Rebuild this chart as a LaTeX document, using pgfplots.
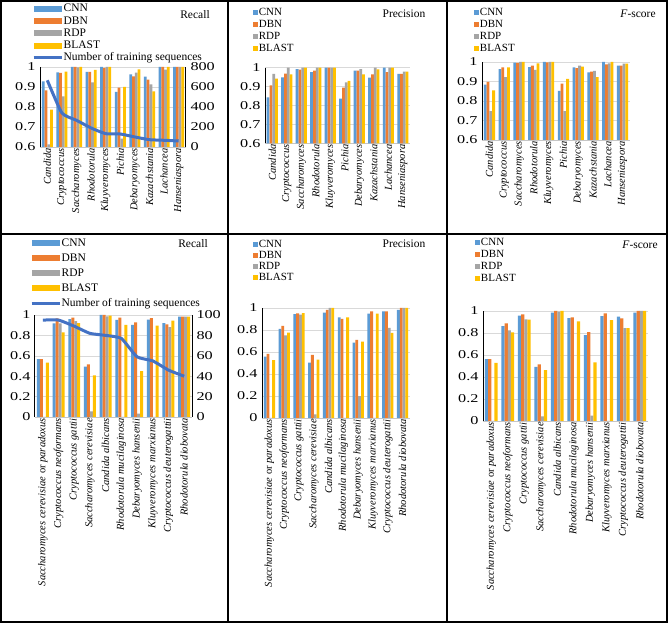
\documentclass[border=0pt]{standalone}
\usepackage{fontspec}
\setmainfont{Liberation Serif}
\newfontfamily\tickfont[FakeStretch=1.35]{Liberation Serif}
\usepackage{pgfplots}
\usepackage{pgfplotstable}
\pgfplotsset{compat=1.18}
\definecolor{cnn}{RGB}{91,155,213}
\definecolor{dbn}{RGB}{237,125,49}
\definecolor{rdp}{RGB}{165,165,165}
\definecolor{blast}{RGB}{255,192,0}
\definecolor{seqc}{RGB}{68,114,196}

\pgfplotstableread{
x cnn dbn rdp blast seq
0 0.928 0.883 0.613 0.787 667
1 0.973 0.970 0.853 0.977 340
2 1.000 1.000 0.998 1.000 267
3 0.975 0.975 0.923 0.985 190
4 1.000 0.995 1.000 1.000 133
5 0.875 0.897 0.642 0.900 130
6 0.963 0.953 0.972 0.988 100
7 0.952 0.937 0.913 0.878 73
8 1.000 1.000 0.987 1.000 67
9 1.000 1.000 1.000 1.000 60
}\recA
\pgfplotstableread{
x cnn dbn rdp blast
0 0.843 0.907 0.967 0.942
1 0.949 0.968 1.000 0.965
2 0.993 0.990 1.000 1.000
3 0.977 0.984 1.000 1.000
4 1.000 1.000 1.000 1.000
5 0.836 0.894 0.922 0.930
6 0.984 0.984 0.993 0.965
7 0.947 0.965 1.000 0.991
8 1.000 0.977 1.000 1.000
9 0.967 0.967 0.979 0.979
}\preA
\pgfplotstableread{
x cnn dbn rdp blast
0 0.884 0.898 0.748 0.855
1 0.963 0.973 0.922 0.973
2 0.997 0.995 1.000 1.000
3 0.974 0.981 0.959 0.993
4 1.000 0.998 1.000 1.000
5 0.852 0.889 0.748 0.913
6 0.973 0.969 0.981 0.976
7 0.947 0.951 0.954 0.922
8 1.000 0.988 0.993 1.000
9 0.981 0.981 0.991 0.991
}\fA
\pgfplotstableread{
x cnn dbn rdp blast seq
0 0.567 0.567 0.000 0.534 95
1 0.918 0.967 0.918 0.830 95
2 0.960 0.974 0.940 0.920 89
3 0.495 0.515 0.056 0.407 82
4 1.000 1.000 0.987 0.993 80
5 0.951 0.974 0.000 0.902 77
6 0.902 0.928 0.033 0.449 59
7 0.954 0.970 0.000 0.895 55
8 0.921 0.908 0.882 0.944 46
9 0.984 0.984 0.984 0.984 40
}\recB
\pgfplotstableread{
x cnn dbn rdp blast
0 0.558 0.582 0.000 0.527
1 0.811 0.838 0.750 0.777
2 0.945 0.951 0.939 0.954
3 0.503 0.573 0.034 0.530
4 0.957 0.982 1.000 1.000
5 0.915 0.900 0.000 0.915
6 0.686 0.710 0.198 0.695
7 0.948 0.970 0.000 0.948
8 0.970 0.970 0.820 0.774
9 0.982 1.000 1.000 1.000
}\preB
\pgfplotstableread{
x cnn dbn rdp blast
0 0.562 0.562 0.000 0.529
1 0.863 0.888 0.824 0.805
2 0.957 0.970 0.924 0.921
3 0.492 0.514 0.043 0.462
4 0.985 1.000 0.995 1.000
5 0.936 0.942 0.000 0.906
6 0.781 0.808 0.049 0.532
7 0.954 0.979 0.000 0.918
8 0.948 0.933 0.845 0.845
9 0.985 1.000 1.000 1.000
}\fB

\pgfplotsset{
  panel/.style={scale only axis, anchor=south west, xmin=-0.5, xmax=9.5, xtick={0,...,9},
    ymajorgrids, grid style={gray!30, line width=0.5pt}, major tick length=0pt,
    axis x line*=bottom, axis y line*=left, axis line style={-},
    y axis line style={black, line width=1pt}, x axis line style={gray!45, line width=0.6pt},
    /pgf/number format/assume math mode=true, /pgf/number format/fixed,
    yticklabel style={font=\tickfont\fontsize{12}{12}\selectfont, xshift=-1pt},
    xticklabel style={rotate=90, anchor=east, inner sep=1pt},
    ybar=0pt, bar width=0.19, legend cell align=left},
  toprow/.style={panel, ymin=0.6, ymax=1, ytick={0.6,0.7,0.8,0.9,1},
    xticklabel style={font=\itshape\fontsize{10.5}{10.5}\selectfont},
    xticklabels={Candida,Cryptococcus,Saccharomyces,Rhodotorula,Kluyveromyces,Pichia,Debaryomyces,Kazachstania,Lachancea,Hanseniaspora}},
  botrow/.style={panel, ymin=0, ymax=1, ytick={0,0.2,0.4,0.6,0.8,1},
    xticklabel style={font=\itshape\fontsize{10.5}{10.5}\selectfont},
    xticklabels={{Saccharomyces cerevisiae {\upshape or} paradoxus},Cryptococcus neoformans,Cryptococcus gattii,Saccharomyces cerevisiae,Candida albicans,Rhodotorula mucilaginosa,Debaryomyces hansenii,Kluyveromyces marxianus,Cryptococcus deuterogattii,Rhodotorula diobovata}},
  widelegend/.style={legend image code/.code={\fill[##1] (0pt,-3pt) rectangle (28pt,3pt);}},
  sqlegend/.style={legend image code/.code={\fill[##1] (0pt,-2.6pt) rectangle (5.2pt,2.6pt);}},
  wideline legend/.style={legend image code/.code={\draw[##1] (0pt,0pt) -- (28pt,0pt);}},
  lgd/.style={legend style={draw=none, fill=none, anchor=north west, inner sep=0pt,
    font=\fontsize{11}{11}\selectfont,
    nodes={inner sep=0.5pt, text height=7.5pt, text depth=2pt}}},
  cnnbar/.style={fill=cnn, draw=none, bar shift=-0.285},
  dbnbar/.style={fill=dbn, draw=none, bar shift=-0.095},
  rdpbar/.style={fill=rdp, draw=none, bar shift=0.095},
  blastbar/.style={fill=blast, draw=none, bar shift=0.285},
  sec/.style={scale only axis, anchor=south west, xmin=-0.5, xmax=9.5, axis x line=none,
    axis y line*=right, axis line style={-}, y axis line style={black, line width=1pt},
    major tick length=0pt, /pgf/number format/assume math mode=true,
    yticklabel style={font=\tickfont\fontsize{12}{12}\selectfont, xshift=1pt}},
}

\begin{document}
\begin{tikzpicture}
\useasboundingbox (0pt,0pt) rectangle (668pt,623pt);
\fill[white] (0pt,0pt) rectangle (668pt,623pt);

% ---- Panel 1: Recall (genus)
\begin{axis}[toprow, at={(40pt,476pt)}, width=146pt, height=80pt, widelegend, lgd,
  legend style={at={(-0.055,1.79)}, row sep=1.6pt, font=\fontsize{11.5}{11.5}\selectfont}]
\addplot[cnnbar] table[x=x,y=cnn]{\recA};
\addplot[dbnbar] table[x=x,y=dbn]{\recA};
\addplot[rdpbar] table[x=x,y=rdp]{\recA};
\addplot[blastbar] table[x=x,y=blast]{\recA};
\addlegendimage{wideline legend, seqc, line width=3pt}
\legend{CNN,DBN,RDP,BLAST,Number of training sequences}
\end{axis}
\begin{axis}[sec, at={(40pt,476pt)}, width=146pt, height=80pt, ymin=0, ymax=800, ytick={0,200,400,600,800}]
\addplot[seqc, line width=3pt, smooth, tension=0.3] table[x=x,y=seq]{\recA};
\end{axis}

% ---- Panel 2: Precision (genus)
\begin{axis}[toprow, at={(265pt,479.7pt)}, width=145pt, height=75.6pt, sqlegend, lgd,
  legend style={at={(-0.083,1.80)}, row sep=1.5pt}]
\addplot[cnnbar] table[x=x,y=cnn]{\preA};
\addplot[dbnbar] table[x=x,y=dbn]{\preA};
\addplot[rdpbar] table[x=x,y=rdp]{\preA};
\addplot[blastbar] table[x=x,y=blast]{\preA};
\legend{CNN,DBN,RDP,BLAST}
\end{axis}

% ---- Panel 3: F-score (genus)
\begin{axis}[toprow, at={(482pt,483pt)}, width=148pt, height=78pt, sqlegend, lgd,
  legend style={at={(-0.054,1.705)}, row sep=1.5pt}]
\addplot[cnnbar] table[x=x,y=cnn]{\fA};
\addplot[dbnbar] table[x=x,y=dbn]{\fA};
\addplot[rdpbar] table[x=x,y=rdp]{\fA};
\addplot[blastbar] table[x=x,y=blast]{\fA};
\legend{CNN,DBN,RDP,BLAST}
\end{axis}

% ---- Panel 4: Recall (species)
\begin{axis}[botrow, at={(35pt,206pt)}, width=157pt, height=102pt, widelegend, lgd,
  legend style={at={(-0.032,1.755)}, row sep=4.5pt, font=\fontsize{11.5}{11.5}\selectfont}]
\addplot[cnnbar] table[x=x,y=cnn]{\recB};
\addplot[dbnbar] table[x=x,y=dbn]{\recB};
\addplot[rdpbar] table[x=x,y=rdp]{\recB};
\addplot[blastbar] table[x=x,y=blast]{\recB};
\addlegendimage{wideline legend, seqc, line width=3pt}
\legend{CNN,DBN,RDP,BLAST,Number of training sequences}
\end{axis}
\begin{axis}[sec, at={(35pt,206pt)}, width=157pt, height=102pt, ymin=0, ymax=100, ytick={0,20,40,60,80,100}]
\addplot[seqc, line width=3pt, smooth, tension=0.3] table[x=x,y=seq]{\recB};
\end{axis}

% ---- Panel 5: Precision (species)
\begin{axis}[botrow, at={(262pt,205pt)}, width=148pt, height=110pt, sqlegend, lgd,
  legend style={at={(-0.061,1.627)}, row sep=0.5pt}]
\addplot[cnnbar] table[x=x,y=cnn]{\preB};
\addplot[dbnbar] table[x=x,y=dbn]{\preB};
\addplot[rdpbar] table[x=x,y=rdp]{\preB};
\addplot[blastbar] table[x=x,y=blast]{\preB};
\legend{CNN,DBN,RDP,BLAST}
\end{axis}

% ---- Panel 6: F-score (species)
\begin{axis}[botrow, at={(483pt,202pt)}, width=165pt, height=110pt, sqlegend, lgd,
  legend style={at={(-0.048,1.673)}, row sep=1.5pt}]
\addplot[cnnbar] table[x=x,y=cnn]{\fB};
\addplot[dbnbar] table[x=x,y=dbn]{\fB};
\addplot[rdpbar] table[x=x,y=rdp]{\fB};
\addplot[blastbar] table[x=x,y=blast]{\fB};
\legend{CNN,DBN,RDP,BLAST}
\end{axis}

% titles
\node[font=\fontsize{11.5}{12}\selectfont] at (195pt,608pt) {Recall};
\node[font=\fontsize{11.5}{12}\selectfont] at (404pt,609pt) {Precision};
\node[font=\fontsize{11.5}{12}\selectfont] at (638pt,609pt) {\textit{F}-score};
\node[font=\fontsize{11.5}{12}\selectfont] at (193pt,379pt) {Recall};
\node[font=\fontsize{11.5}{12}\selectfont] at (404pt,379pt) {Precision};
\node[font=\fontsize{11.5}{12}\selectfont] at (640pt,378pt) {\textit{F}-score};

% frame
\draw[line width=1.2pt] (1pt,1pt) rectangle (667pt,622pt);
\draw[line width=1.4pt] (0pt,389pt) -- (668pt,389pt);
\draw[line width=1.2pt] (228pt,1pt) -- (228pt,622pt);
\draw[line width=1.4pt] (447pt,1pt) -- (447pt,622pt);
\end{tikzpicture}
\end{document}
